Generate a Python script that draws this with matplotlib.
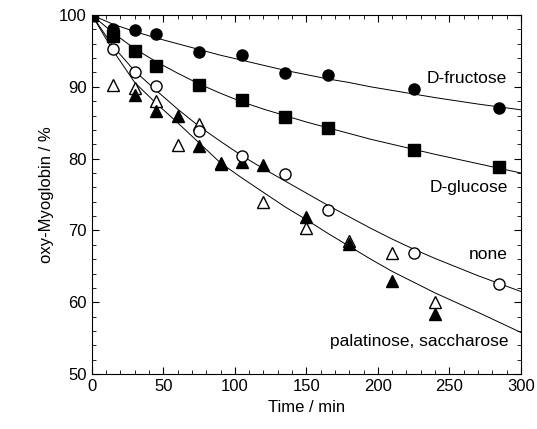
import numpy as np
import matplotlib
matplotlib.use("Agg")
import matplotlib.pyplot as plt
from matplotlib.ticker import MultipleLocator

plt.rcParams['font.family'] = ['Liberation Sans', 'DejaVu Sans']

# measured points
t_fru = [0, 15, 30, 45, 75, 105, 135, 165, 225, 285]
v_fru = [100, 98.1, 97.9, 97.3, 94.8, 94.5, 91.9, 91.6, 89.7, 87.1]

t_glu = [0, 15, 30, 45, 75, 105, 135, 165, 225, 285]
v_glu = [100, 97.1, 95.0, 92.9, 90.2, 88.2, 85.8, 84.3, 81.2, 78.9]

t_none = [0, 15, 30, 45, 75, 105, 135, 165, 225, 285]
v_none = [100, 95.3, 92.0, 90.1, 83.8, 80.3, 77.8, 72.9, 66.9, 62.6]

t_pal = [0, 15, 30, 45, 60, 75, 90, 120, 150, 180, 210, 240]
v_pal = [100, 90.2, 89.9, 88.0, 81.9, 84.8, 79.3, 73.9, 70.3, 68.6, 66.9, 60.1]

t_sac = [0, 30, 45, 60, 75, 90, 105, 120, 150, 180, 210, 240]
v_sac = [100, 88.9, 86.6, 86.0, 81.8, 79.4, 79.5, 79.1, 71.9, 68.1, 63.0, 58.3]

# fitted curves
t_fit = [0, 15, 30, 45, 60, 75, 90, 105, 120, 135, 150, 165, 180, 195, 210, 225, 240, 270, 300]
fit_fru = [100, 98.7, 97.7, 96.8, 96.0, 95.2, 94.4, 93.7, 93.0, 92.3, 91.7, 91.1, 90.6, 90.0,
           89.5, 89.0, 88.5, 87.6, 86.8]
fit_glu = [100, 97.5, 95.3, 93.5, 91.9, 90.4, 89.1, 87.9, 86.9, 86.0, 85.1, 84.3, 83.5, 82.7,
           82.0, 81.3, 80.6, 79.3, 78.0]
fit_none = [100, 95.6, 92.2, 89.5, 86.9, 84.5, 82.4, 80.4, 78.6, 76.9, 75.2, 73.5, 71.9, 70.3,
            68.8, 67.4, 66.1, 63.7, 61.5]
fit_pal = [100, 95.0, 90.6, 87.7, 85.0, 82.2, 79.4, 77.3, 75.3, 73.3, 71.5, 69.6, 67.8, 66.0,
           64.3, 62.8, 61.3, 58.6, 55.8]

fig = plt.figure(figsize=(5.37, 4.29), dpi=100)
ax = fig.add_axes([0.171, 0.128, 0.799, 0.837])

for f in [fit_fru, fit_glu, fit_none, fit_pal]:
    ax.plot(t_fit, f, color='black', lw=0.7, zorder=1)

ms = 8
ax.plot(t_pal, v_pal, '^', mfc='white', mec='black', mew=1.0, ms=ms, ls='none', zorder=3)
ax.plot(t_sac, v_sac, '^', mfc='black', mec='black', ms=ms, ls='none', zorder=3)
ax.plot(t_none, v_none, 'o', mfc='white', mec='black', mew=1.0, ms=ms, ls='none', zorder=3)
ax.plot(t_fru, v_fru, 'o', mfc='black', mec='black', ms=ms, ls='none', zorder=4)
ax.plot(t_glu, v_glu, 's', mfc='black', mec='black', ms=ms, ls='none', zorder=4)

fs = 12.5
ax.text(290, 91.1, 'D-fructose', ha='right', va='center', fontsize=fs)
ax.text(291, 76.0, 'D-glucose', ha='right', va='center', fontsize=fs)
ax.text(291, 66.6, 'none', ha='right', va='center', fontsize=fs)
ax.text(291, 54.5, 'palatinose, saccharose', ha='right', va='center', fontsize=fs)

ax.set_xlim(0, 300)
ax.set_ylim(50, 100)
ax.xaxis.set_major_locator(MultipleLocator(50))
ax.xaxis.set_minor_locator(MultipleLocator(10))
ax.yaxis.set_major_locator(MultipleLocator(10))
ax.yaxis.set_minor_locator(MultipleLocator(2))
ax.tick_params(which='both', direction='in', top=True, right=True, labelsize=12)
ax.tick_params(which='major', length=5)
ax.tick_params(which='minor', length=3)

ax.set_xlabel('Time / min', fontsize=12)
ax.set_ylabel('oxy-Myoglobin / %', fontsize=12)

fig.savefig('out.png', dpi=100)
